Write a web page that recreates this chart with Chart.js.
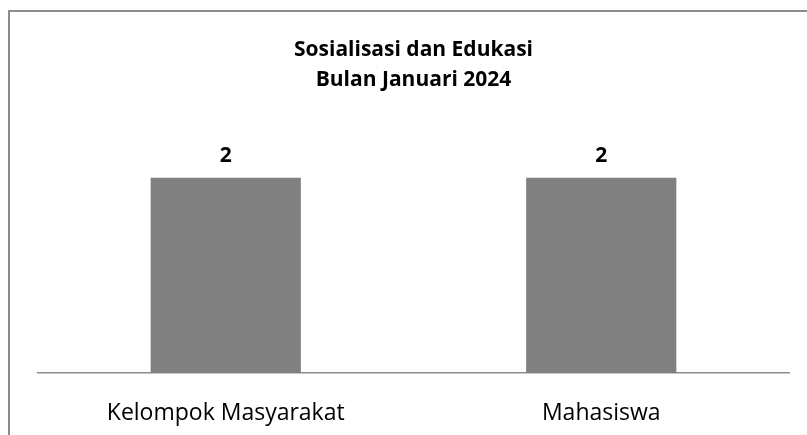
<!DOCTYPE html>
<html>
<head>
<meta charset="utf-8">
<script src="https://cdn.jsdelivr.net/npm/chart.js@4.4.1/dist/chart.umd.min.js"></script>
<style>
  html, body { margin: 0; padding: 0; background: #ffffff; }
  #wrap { position: relative; width: 807px; height: 435px; overflow: hidden; }
  #frame {
    position: absolute; left: 8px; top: 10px; width: 830px; height: 460px;
    border: 2px solid #8c8c8c; box-sizing: border-box;
  }
  #c { position: absolute; left: 0; top: 0; }
</style>
</head>
<body>
<div id="wrap">
  <div id="frame"></div>
  <canvas id="c" width="807" height="435"></canvas>
</div>
<script>
// Chart data
const categories = ['Kelompok Masyarakat', 'Mahasiswa'];
const values = [2, 2];
const titleLines = ['Sosialisasi dan Edukasi', 'Bulan Januari 2024'];

const fontFamily = '"Open Sans", "Noto Sans", sans-serif';

// Draw value labels above each bar
const valueLabels = {
  id: 'valueLabels',
  afterDatasetsDraw(chart) {
    const ctx = chart.ctx;
    const meta = chart.getDatasetMeta(0);
    ctx.save();
    ctx.font = 'bold 21px ' + fontFamily;
    ctx.fillStyle = '#000000';
    ctx.textAlign = 'center';
    ctx.textBaseline = 'middle';
    meta.data.forEach((bar, i) => {
      ctx.fillText(String(values[i]), bar.x, bar.y - 22);
    });
    ctx.restore();
  }
};

new Chart(document.getElementById('c'), {
  type: 'bar',
  data: {
    labels: categories,
    datasets: [{
      data: values,
      backgroundColor: '#808080',
      borderWidth: 0,
      categoryPercentage: 1,
      barPercentage: 0.4
    }]
  },
  options: {
    responsive: false,
    animation: false,
    layout: {
      padding: { left: 38, right: 18, top: 0, bottom: 0 }
    },
    plugins: {
      legend: { display: false },
      tooltip: { enabled: false },
      title: {
        display: true,
        text: titleLines,
        color: '#000000',
        font: { family: fontFamily, size: 21, weight: 'bold', lineHeight: '30px' },
        padding: { top: 35, bottom: 34 }
      }
    },
    scales: {
      x: {
        grid: { display: false, drawTicks: false },
        border: { display: true, color: '#8c8c8c', width: 1.5 },
        ticks: {
          color: '#000000',
          font: { family: fontFamily, size: 23 },
          padding: 27
        },
        afterFit(scale) {
          scale.height = 62;
        }
      },
      y: {
        display: false,
        min: 0,
        max: 2.5
      }
    }
  },
  plugins: [valueLabels]
});
</script>
</body>
</html>
